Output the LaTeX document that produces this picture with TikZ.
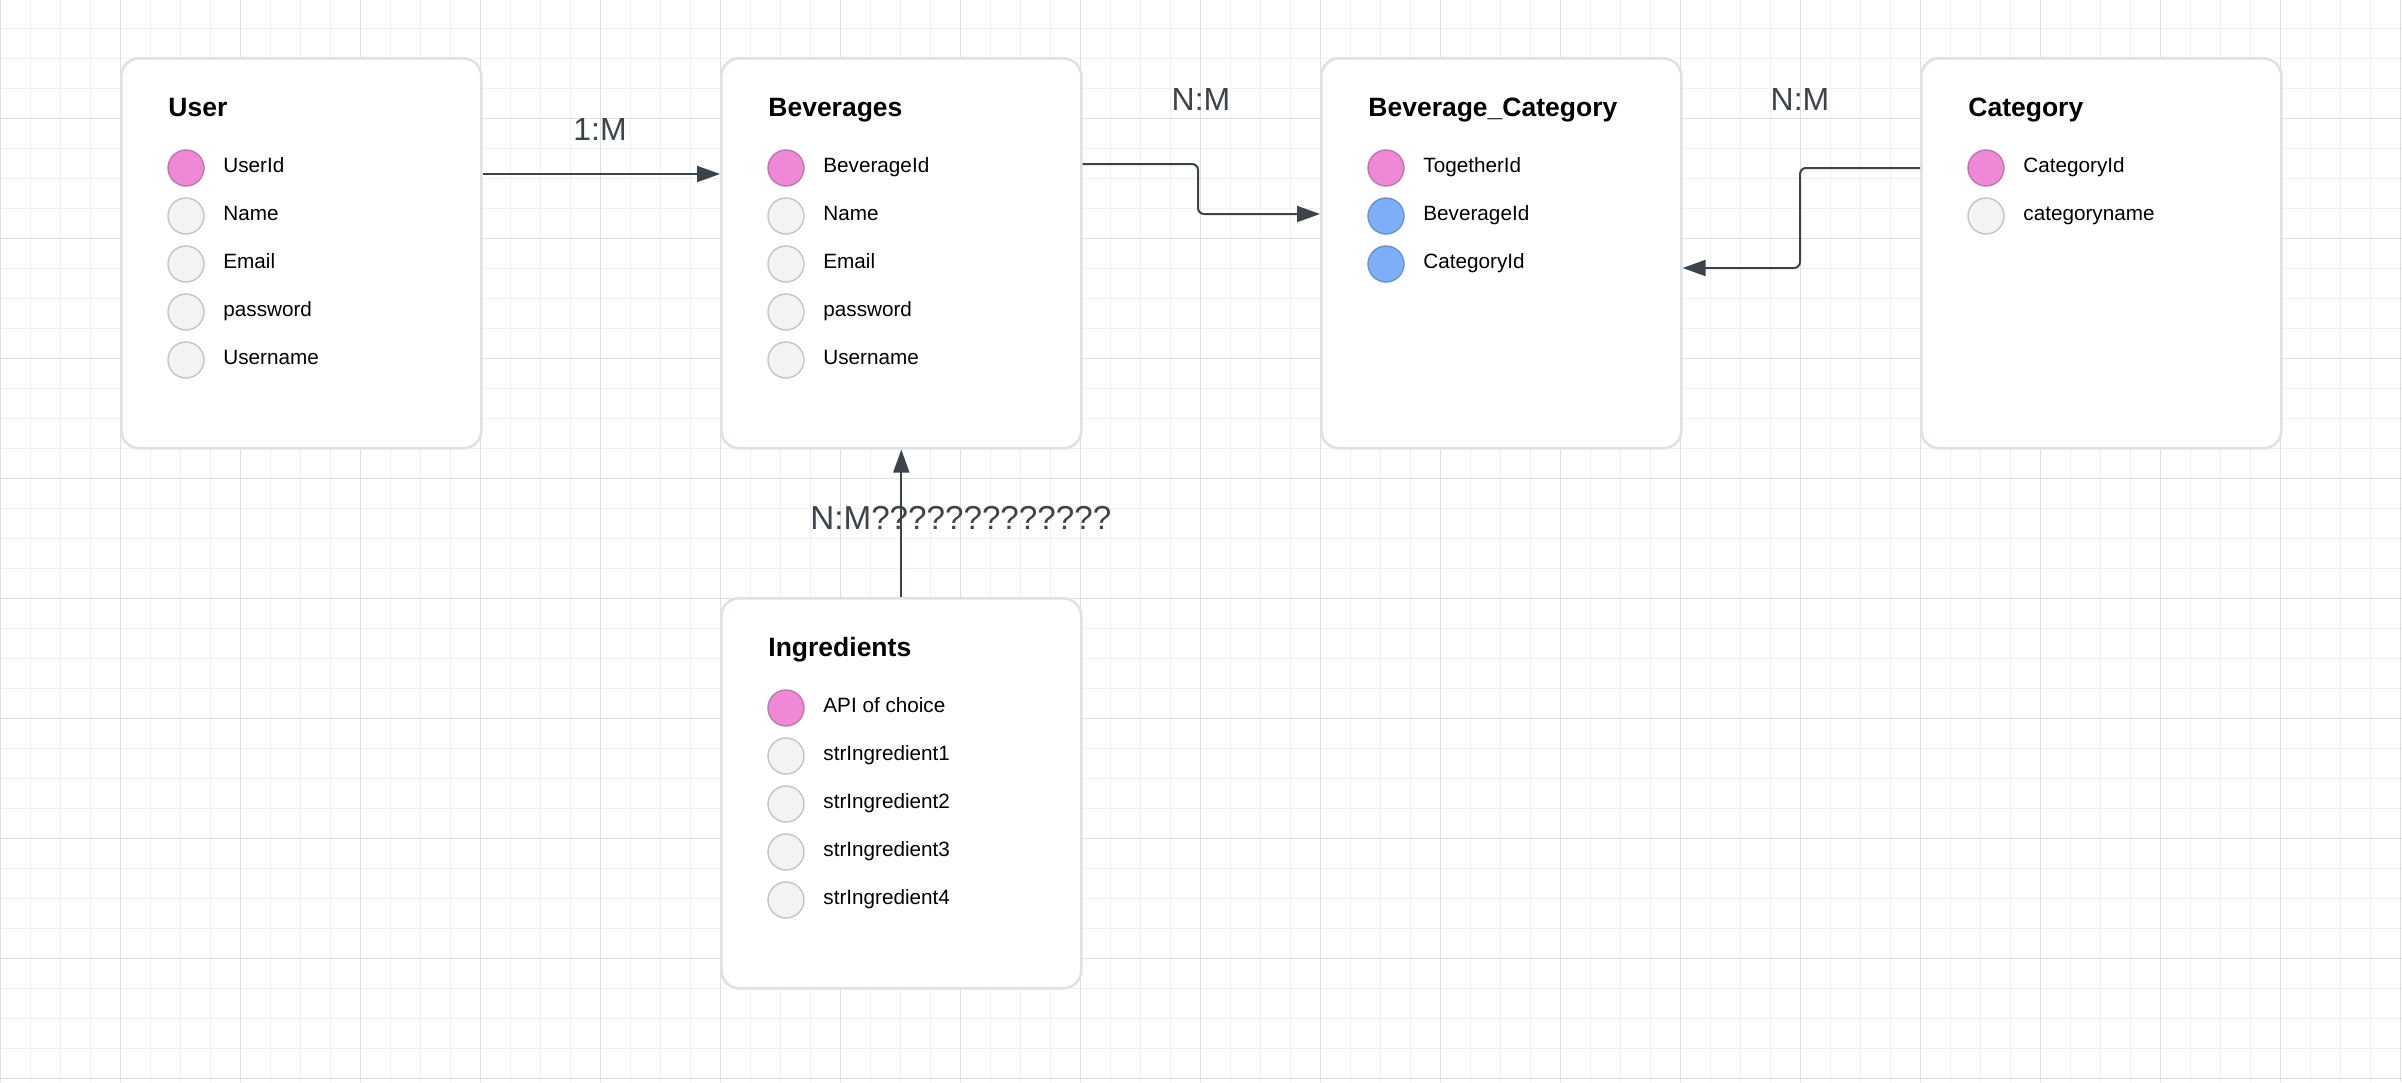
\documentclass[tikz,border=0pt]{standalone}
\usepackage{fontspec}
\setmainfont{Liberation Sans}
\usetikzlibrary{arrows.meta}
\definecolor{gridminor}{HTML}{F1F1F1}
\definecolor{gridmajor}{HTML}{DFDFDF}
\definecolor{boxborder}{HTML}{DEE1E5}
\definecolor{pinkfill}{HTML}{EE88D7}
\definecolor{pinkline}{HTML}{B97AA8}
\definecolor{bluefill}{HTML}{7EAEF5}
\definecolor{blueline}{HTML}{6A93C9}
\definecolor{grayfill}{HTML}{F2F3F5}
\definecolor{grayline}{HTML}{C4C4C4}
\definecolor{linkcol}{HTML}{3D434B}
\begin{document}
\begin{tikzpicture}[x=0.5pt,y=-0.5pt,
  entity/.style={draw=boxborder, line width=1.3pt, fill=white, rounded corners=9pt,
    minimum width=180pt, minimum height=195pt, anchor=north west, inner sep=0pt},
  etitle/.style={anchor=base west, font=\fontsize{13.25pt}{15pt}\selectfont\bfseries, inner sep=0pt},
  attr/.style={anchor=base west, font=\fontsize{10.35pt}{12pt}\selectfont, inner sep=0pt},
  key/.style={circle, minimum size=18pt, inner sep=0pt, line width=0.7pt},
  pk/.style={key, fill=pinkfill, draw=pinkline},
  fk/.style={key, fill=bluefill, draw=blueline},
  plain/.style={key, fill=grayfill, draw=grayline},
  rel/.style={draw=linkcol, line width=1pt, -{Triangle[length=11.5pt,width=8pt]}},
  rellabel/.style={font=\fontsize{16pt}{19pt}\selectfont, text=linkcol, anchor=base, inner sep=0pt}
]
% background and grid
\useasboundingbox (0,0) rectangle (2402,1082);
\fill[white] (0,0) rectangle (2402,1082);
\foreach \x in {0,30,...,2400} \draw[gridminor, line width=0.5pt] (\x,0) -- (\x,1082);
\foreach \y in {28,58,...,1078} \draw[gridminor, line width=0.5pt] (0,\y) -- (2402,\y);
\foreach \x in {0,120,...,2400} \draw[gridmajor, line width=0.5pt] (\x,0) -- (\x,1082);
\foreach \y in {118,238,...,1078} \draw[gridmajor, line width=0.5pt] (0,\y) -- (2402,\y);

% User
\node[entity] (user) at (120,57) {};
\node[etitle] (user-t) at (168,116) {User};
\foreach \s/\t [count=\i] in {pk/UserId,plain/Name,plain/Email,plain/password,plain/Username}{
  \node[\s] (user-c\i) at (186,{120+48*\i}) {};
  \node[attr] (user-a\i) at (223,{124.7+48*\i}) {\t};
}

% Beverages
\node[entity] (bev) at (720,57) {};
\node[etitle] (bev-t) at (768,116) {Beverages};
\foreach \s/\t [count=\i] in {pk/BeverageId,plain/Name,plain/Email,plain/password,plain/Username}{
  \node[\s] (bev-c\i) at (786,{120+48*\i}) {};
  \node[attr] (bev-a\i) at (823,{124.7+48*\i}) {\t};
}

% Beverage_Category
\node[entity] (bevcat) at (1320,57) {};
\node[etitle] (bevcat-t) at (1368,116) {Beverage\_Category};
\foreach \s/\t [count=\i] in {pk/TogetherId,fk/BeverageId,fk/CategoryId}{
  \node[\s] (bevcat-c\i) at (1386,{120+48*\i}) {};
  \node[attr] (bevcat-a\i) at (1423,{124.7+48*\i}) {\t};
}

% Category
\node[entity] (cat) at (1920,57) {};
\node[etitle] (cat-t) at (1968,116) {Category};
\foreach \s/\t [count=\i] in {pk/CategoryId,plain/categoryname}{
  \node[\s] (cat-c\i) at (1986,{120+48*\i}) {};
  \node[attr] (cat-a\i) at (2023,{124.7+48*\i}) {\t};
}

% Ingredients
\node[entity] (ingr) at (720,597) {};
\node[etitle] (ingr-t) at (768,656) {Ingredients};
\foreach \s/\t [count=\i] in {pk/API of choice,plain/strIngredient1,plain/strIngredient2,plain/strIngredient3,plain/strIngredient4}{
  \node[\s] (ingr-c\i) at (786,{660+48*\i}) {};
  \node[attr] (ingr-a\i) at (823,{664.7+48*\i}) {\t};
}

% relations
\draw[rel] (user.east |- 0,174) -- (bev.west |- 0,174);
\draw[rel, rounded corners=3pt] (bev.east |- 0,164) -- (1198,164) -- (1198,214) -- (bevcat.west |- 0,214);
\draw[rel, rounded corners=3pt] (cat.west |- 0,168) -- (1800,168) -- (1800,268) -- (bevcat.east |- 0,268);
\draw[rel] (ingr.north) -- (bev.south);

% labels
\node[rellabel] (l1) at (600,140) {1:M};
\node[rellabel] (l2) at (1201,110) {N:M};
\node[rellabel] (l3) at (1800,110) {N:M};
\node[rellabel, anchor=base west, font=\fontsize{16.6pt}{19pt}\selectfont] (l4) at (810,529) {N:M?????????????};
\end{tikzpicture}
\end{document}
